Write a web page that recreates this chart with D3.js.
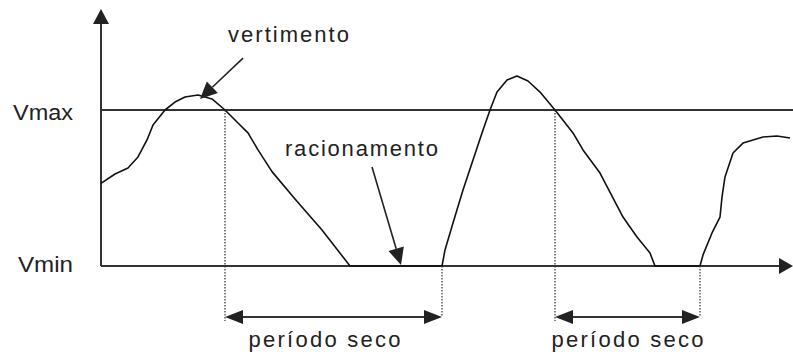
<!DOCTYPE html>
<html>
<head>
<meta charset="utf-8">
<script src="https://cdn.jsdelivr.net/npm/d3@7"></script>
<style>
  html, body { margin: 0; padding: 0; background: #fff; }
  svg { display: block; }
  text { font-family: "Liberation Sans", Arial, sans-serif; fill: #222; }
</style>
</head>
<body>
<div id="chart"></div>
<script>
// Reservoir storage over time (time units, volume in % of Vmax)
const timeValues = [
  0, 1.4, 2.7, 3.7, 4.6, 5.2, 6.4, 7.4, 8.4, 9.7, 11.1, 12.4, 13.7, 14.7, 15.7,
  17.1, 19.4, 22.1, 24.9, 34.1, 34.4, 35.2, 36.2, 37.2, 38.1, 38.9, 39.6, 40.6,
  41.6, 42.7, 43.9, 45.4, 47.2, 48.2, 49.9, 52.2, 53.6, 54.9, 55.4, 59.9, 60.2,
  61.1, 61.9, 62.1, 62.4, 63.2, 64.2, 66.2, 67.6, 68.9
];
const volumeValues = [
  53, 59, 62.8, 69.9, 80.8, 90.4, 100, 105.1, 108.3, 109.6, 107.1, 100, 91.7, 85.3, 74.4,
  60.5, 42.9, 23.1, 0, 0, 10.3, 27.6, 48.7, 67.9, 85.3, 100, 111.5, 119.2,
  121.8, 118.6, 111.5, 100, 85.3, 74.4, 59.6, 31.4, 18.6, 8.3, 0, 0, 7.1,
  21.2, 31.4, 44.2, 57.1, 72.4, 78.8, 82.7, 83.3, 82.1
];

// Reference levels
const levelNames = ["Vmin", "Vmax"];
const levelValues = [0, 100];

// Dry periods (start when storage leaves Vmax, end when inflow resumes)
const dryStart = [12.4, 45.4];
const dryEnd = [34.1, 59.9];
const dryLabel = "período seco";

// Callouts: label, arrow tail and tip in (time, volume)
const calloutLabels = ["vertimento", "racionamento"];
const calloutTail = [[14.2, 133.3], [27.1, 63.5]];
const calloutTip = [[9.9, 107.1], [30.0, 0.6]];

const W = 793, H = 358;
const x = d3.scaleLinear().domain([0, 69.2]).range([101, 793]);
const y = d3.scaleLinear().domain([0, 100]).range([266, 110]);

const svg = d3.select("#chart").append("svg")
  .attr("width", W).attr("height", H);

const ink = "#222";

function arrowHead(tip, from, len, half) {
  const dx = tip[0] - from[0], dy = tip[1] - from[1];
  const d = Math.hypot(dx, dy), ux = dx / d, uy = dy / d;
  const bx = tip[0] - ux * len, by = tip[1] - uy * len;
  return [[tip[0], tip[1]], [bx - uy * half, by + ux * half], [bx + uy * half, by - ux * half]];
}
function drawHead(tip, from, len, half) {
  svg.append("path")
    .attr("d", d3.line()(arrowHead(tip, from, len, half)) + "Z")
    .attr("fill", ink);
}

// Axes
const x0 = x(0), yTop = 9, yBase = y(0), xEnd = x.range()[1];
svg.append("line").attr("x1", x0).attr("x2", x0).attr("y1", yTop + 10).attr("y2", yBase)
  .attr("stroke", "#333").attr("stroke-width", 2);
drawHead([x0, yTop], [x0, yBase], 15, 8);
svg.append("line").attr("x1", x0).attr("x2", xEnd - 10).attr("y1", yBase).attr("y2", yBase)
  .attr("stroke", "#333").attr("stroke-width", 2);
drawHead([xEnd, yBase], [x0, yBase], 14, 8);

// Vmax level line
svg.append("line").attr("x1", x0).attr("x2", xEnd).attr("y1", y(100)).attr("y2", y(100))
  .attr("stroke", "#333").attr("stroke-width", 2);

// Level labels
const labelOffset = [6, 10];
const labelWidth = [55, 60];
levelNames.forEach((name, i) => {
  svg.append("text")
    .attr("x", x0 - 28).attr("y", y(levelValues[i]) + labelOffset[i])
    .attr("text-anchor", "end")
    .attr("font-size", 22)
    .attr("textLength", labelWidth[i]).attr("lengthAdjust", "spacingAndGlyphs")
    .text(name);
});

// Storage curve
const pts = timeValues.map((t, i) => [t, volumeValues[i]]);
svg.append("path")
  .datum(pts)
  .attr("d", d3.line().x(d => x(d[0])).y(d => y(d[1])).curve(d3.curveLinear))
  .attr("fill", "none").attr("stroke", "#111").attr("stroke-width", 1.6)
  .attr("stroke-linejoin", "round");

// Dry period markers
const arrowY = 317;
dryStart.forEach((s, i) => {
  const e = dryEnd[i];
  svg.append("line").attr("x1", x(s)).attr("x2", x(s)).attr("y1", y(100)).attr("y2", arrowY + 4)
    .attr("stroke", "#333").attr("stroke-width", 1.2).attr("stroke-dasharray", "1.5,1.5");
  svg.append("line").attr("x1", x(e)).attr("x2", x(e)).attr("y1", y(0)).attr("y2", arrowY)
    .attr("stroke", "#333").attr("stroke-width", 1.2).attr("stroke-dasharray", "1.5,1.5");
  svg.append("line").attr("x1", x(s) + 6).attr("x2", x(e) - 6).attr("y1", arrowY).attr("y2", arrowY)
    .attr("stroke", "#333").attr("stroke-width", 2.2);
  drawHead([x(s), arrowY], [x(e), arrowY], 18, 7);
  drawHead([x(e), arrowY], [x(s), arrowY], 18, 7);
  svg.append("text")
    .attr("x", (x(s) + x(e)) / 2 - (i === 0 ? 9 : 0)).attr("y", 347)
    .attr("text-anchor", "middle")
    .attr("font-size", 22)
    .attr("textLength", 152).attr("lengthAdjust", "spacing")
    .text(dryLabel);
});

// Callouts
const calloutText = [[228, 42, 121], [285, 156, 153]];
calloutLabels.forEach((label, i) => {
  const tail = [x(calloutTail[i][0]), y(calloutTail[i][1])];
  const tip = [x(calloutTip[i][0]), y(calloutTip[i][1])];
  const head = arrowHead(tip, tail, 17, 8);
  const bx = (head[1][0] + head[2][0]) / 2, by = (head[1][1] + head[2][1]) / 2;
  svg.append("line").attr("x1", tail[0]).attr("y1", tail[1]).attr("x2", bx).attr("y2", by)
    .attr("stroke", ink).attr("stroke-width", 1.6);
  drawHead(tip, tail, 17, 8);
  const [tx, ty, tw] = calloutText[i];
  svg.append("text")
    .attr("x", tx).attr("y", ty)
    .attr("font-size", 22)
    .attr("textLength", tw).attr("lengthAdjust", "spacing")
    .text(label);
});
</script>
</body>
</html>
